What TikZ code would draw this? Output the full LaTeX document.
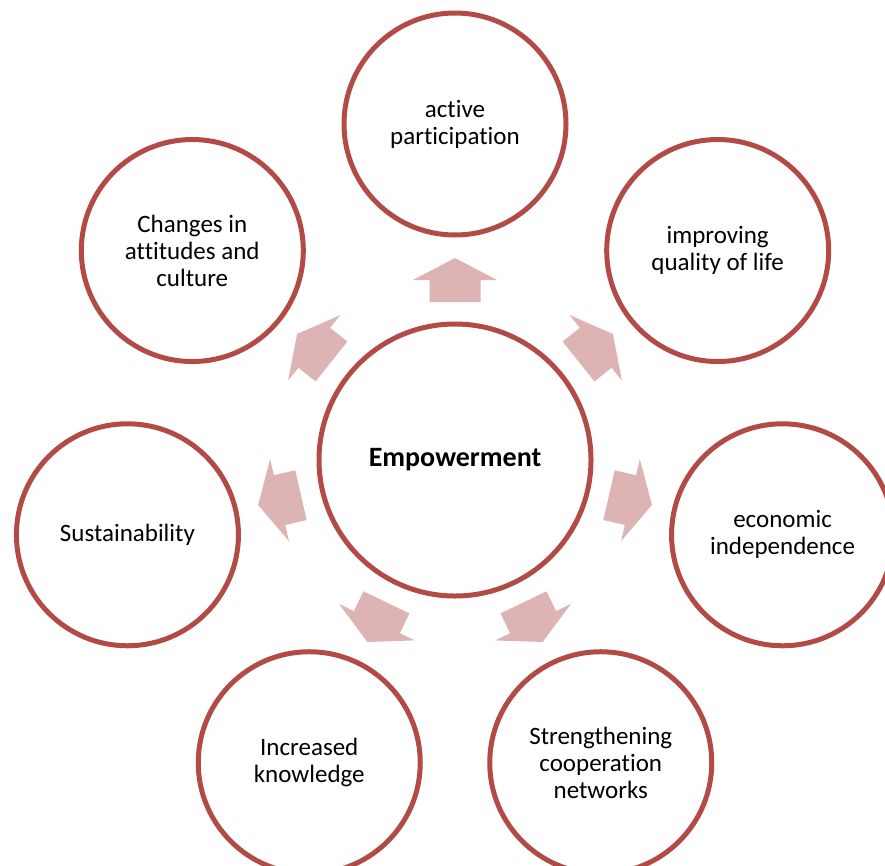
\documentclass[tikz,border=0pt]{standalone}
\usepackage{fontspec}
\setmainfont{Carlito}[Ligatures={NoCommon}]
\usetikzlibrary{calc}
\definecolor{ringred}{RGB}{178,75,70}
\definecolor{arrowpink}{RGB}{221,179,179}
\begin{document}
\begin{tikzpicture}[x=1pt,y=1pt,
  hub/.style={circle,draw=ringred,line width=5pt,minimum size=272pt,inner sep=0pt,
    font=\fontsize{28}{32}\selectfont\bfseries},
  sat/.style={circle,draw=ringred,line width=5pt,minimum size=222pt,inner sep=0pt,
    align=center,font=\fontsize{25}{27}\selectfont},
  blockarrow/.style={fill=arrowpink}
]
\useasboundingbox (0,-865) rectangle (885,0);
\clip (0,-865) rectangle (885,0);

% central circle
\node[hub] (hub) at (455,-460) {Empowerment};

% surrounding circles, 360/7 degrees apart
\node[sat] (n1) at ($(hub)+(90:336)$) {active\\participation};
\node[sat] (n2) at ($(hub)+(38.57:336)$) {improving\\quality of life};
\node[sat] (n3) at ($(hub)+(-12.86:336)$) {economic\\independence};
\node[sat] (n4) at ($(hub)+(-64.29:336)$) {Strengthening\\cooperation\\networks};
\node[sat] (n5) at ($(hub)+(-115.71:336)$) {Increased\\knowledge};
\node[sat] (n6) at ($(hub)+(-167.14:336)$) {Sustainability};
\node[sat] (n7) at ($(hub)+(141.43:336)$) {Changes in\\attitudes and\\culture};

% block arrows pointing outwards from the hub
\foreach \ang in {90,38.57,-12.86,-64.29,-115.71,-167.14,141.43}{
  \begin{scope}[shift={(hub.center)},rotate=\ang-90]
    \fill[blockarrow] (-25.5,158) -- (-25.5,180) -- (-42,180) -- (0,202)
      -- (42,180) -- (25.5,180) -- (25.5,158) -- cycle;
  \end{scope}
}
\end{tikzpicture}
\end{document}
